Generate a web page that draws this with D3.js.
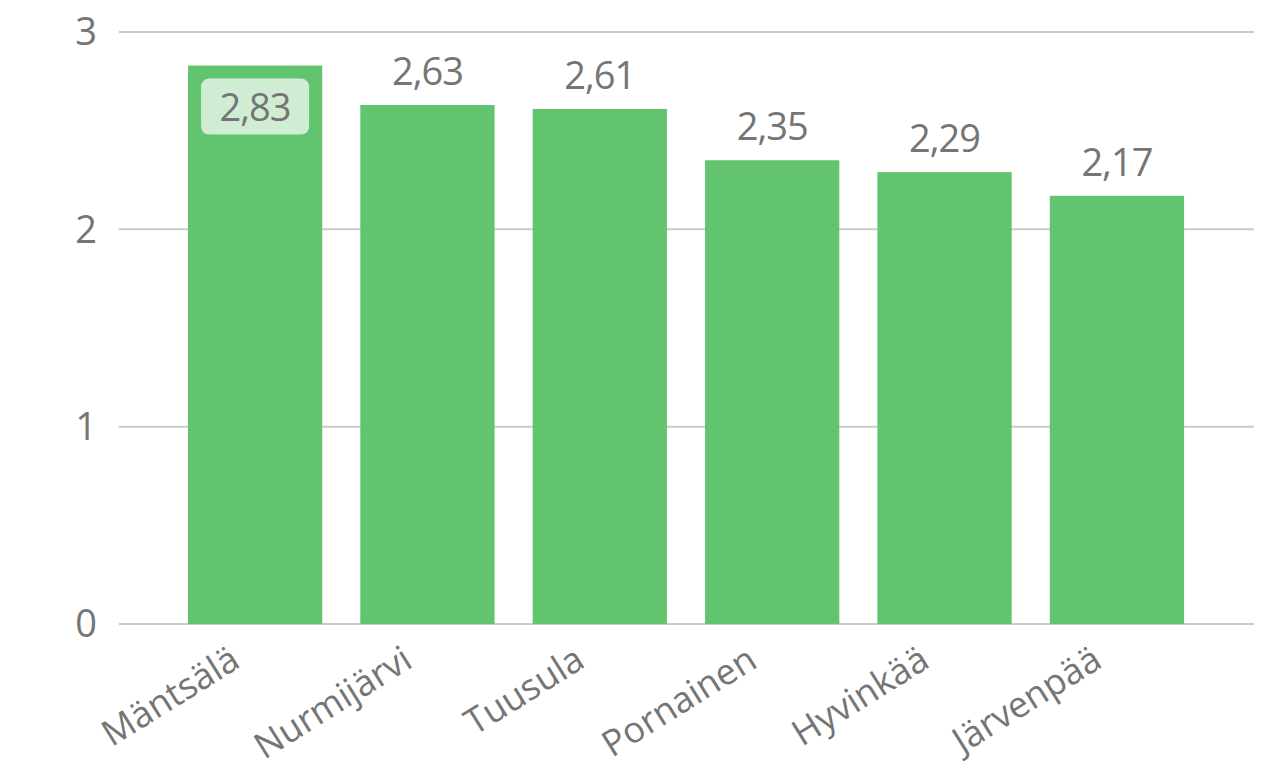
<!DOCTYPE html>
<html>
<head>
<meta charset="utf-8">
<script src="https://cdn.jsdelivr.net/npm/d3@7/dist/d3.min.js"></script>
<style>
  html, body { margin: 0; padding: 0; background: #ffffff; }
  svg { display: block; }
  text { font-family: "Open Sans", "Noto Sans", sans-serif; fill: #757575; }
</style>
</head>
<body>
<svg id="chart" width="1277" height="772"></svg>
<script>
// Municipalities and their values
const categories = ["Mäntsälä", "Nurmijärvi", "Tuusula", "Pornainen", "Hyvinkää", "Järvenpää"];
const values = [2.83, 2.63, 2.61, 2.35, 2.29, 2.17];
const yTicks = [0, 1, 2, 3];

const svg = d3.select("#chart");
const plot = { left: 119, right: 1254, top: 32, bottom: 624 };

const x = d3.scaleBand()
  .domain(categories)
  .range([plot.left, plot.right - 1])
  .paddingInner(0.221)
  .paddingOuter(0.4);

const y = d3.scaleLinear()
  .domain([0, 3])
  .range([plot.bottom, plot.top]);

const fmt = v => d3.format(".2f")(v).replace(".", ",");

// Horizontal grid lines
svg.append("g")
  .selectAll("line")
  .data(yTicks)
  .join("line")
  .attr("x1", plot.left)
  .attr("x2", plot.right)
  .attr("y1", d => y(d))
  .attr("y2", d => y(d))
  .attr("stroke", "#c9ccc9")
  .attr("stroke-width", 2);

// Y tick labels
svg.append("g")
  .selectAll("text")
  .data(yTicks)
  .join("text")
  .attr("x", 97)
  .attr("y", d => y(d))
  .attr("dy", "0.35em")
  .attr("text-anchor", "end")
  .style("font-size", "38px")
  .text(d => d);

// Bars
svg.append("g")
  .selectAll("rect")
  .data(values)
  .join("rect")
  .attr("x", (d, i) => x(categories[i]))
  .attr("y", d => y(d))
  .attr("width", x.bandwidth())
  .attr("height", d => y(0) - y(d))
  .attr("fill", "#62c46f");

// Value labels: largest inside its bar on a pale badge, the rest above
const labels = svg.append("g");
values.forEach((v, i) => {
  const cx = x(categories[i]) + x.bandwidth() / 2;
  if (i === 0) {
    labels.append("rect")
      .attr("x", cx - 54)
      .attr("y", y(v) + 13)
      .attr("width", 108)
      .attr("height", 56)
      .attr("rx", 8)
      .attr("fill", "#d0edd4");
    labels.append("text")
      .attr("x", cx)
      .attr("y", y(v) + 55)
      .attr("text-anchor", "middle")
      .style("font-size", "38px")
      .style("letter-spacing", "-1px")
      .text(fmt(v));
  } else {
    labels.append("text")
      .attr("x", cx)
      .attr("y", y(v) - 20)
      .attr("text-anchor", "middle")
      .style("font-size", "38px")
      .style("letter-spacing", "-1px")
      .text(fmt(v));
  }
});

// Rotated category labels
svg.append("g")
  .selectAll("text")
  .data(categories)
  .join("text")
  .attr("transform", d => `translate(${x(d) + x.bandwidth() / 2 - 13},${plot.bottom + 42}) rotate(-32)`)
  .attr("text-anchor", "end")
  .style("font-size", "36px")
  .text(d => d);
</script>
</body>
</html>
